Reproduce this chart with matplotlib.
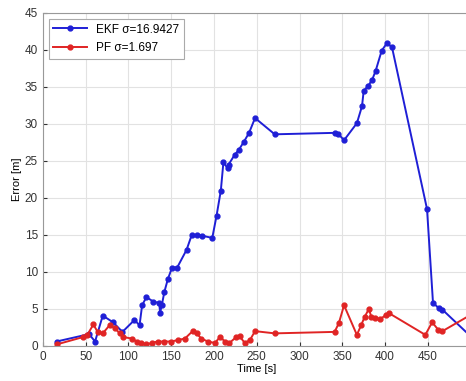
import matplotlib
matplotlib.use('Agg')
import matplotlib.pyplot as plt

# EKF error
ekf_t = [16, 54, 61, 70, 82, 93, 107, 113, 116, 121, 129, 136, 137, 139, 142, 146,
         151, 157, 168, 174, 180, 186, 198, 203, 208, 211, 216, 217, 224, 229, 235,
         241, 248, 271, 342, 345, 352, 367, 373, 375, 380, 385, 389, 396, 402, 408,
         449, 456, 463, 467, 500]
ekf_e = [0.6, 1.6, 0.6, 4.1, 3.2, 1.9, 3.5, 2.8, 5.5, 6.6, 6.0, 5.8, 4.5, 5.5, 7.3, 9.0,
         10.6, 10.6, 13.0, 15.0, 15.0, 14.9, 14.6, 17.6, 21.0, 24.8, 24.0, 24.5, 25.8, 26.5, 27.6,
         28.8, 30.8, 28.6, 28.8, 28.7, 27.8, 30.1, 32.4, 34.5, 35.1, 36.0, 37.2, 39.9, 40.9, 40.4,
         18.5, 5.8, 5.1, 4.9, 1.3]

# PF error
pf_t = [16, 47, 52, 59, 64, 70, 78, 84, 90, 94, 104, 110, 115, 121, 127, 134, 142, 150,
        158, 166, 175, 180, 185, 193, 201, 207, 213, 218, 226, 230, 236, 242, 248, 271,
        341, 346, 352, 367, 372, 376, 381, 384, 388, 394, 401, 405, 447, 455, 462, 467, 500]
pf_e = [0.2, 1.2, 1.5, 2.9, 1.9, 1.7, 2.8, 2.4, 1.7, 1.2, 1.0, 0.6, 0.4, 0.2, 0.4, 0.6, 0.6, 0.6,
        0.8, 1.0, 2.0, 1.7, 1.0, 0.6, 0.4, 1.2, 0.6, 0.4, 1.2, 1.3, 0.4, 0.8, 2.0, 1.7,
        1.9, 3.1, 5.5, 1.5, 2.8, 3.9, 5.0, 3.9, 3.8, 3.6, 4.2, 4.4, 1.5, 3.2, 2.2, 2.0, 4.2]

plt.rcParams['font.family'] = ['Liberation Sans', 'DejaVu Sans']

fig = plt.figure(figsize=(4.66, 3.81), dpi=100)
ax = fig.add_axes([0.092, 0.092, 0.918, 0.874])

ax.plot(ekf_t, ekf_e, '-o', color='#1f1fd6', lw=1.4, ms=3.5, label='EKF σ=16.9427')
ax.plot(pf_t, pf_e, '-o', color='#e02424', lw=1.4, ms=3.5, label='PF σ=1.697')

ax.set_xlim(0, 500)
ax.set_ylim(0, 45)
ax.set_xticks(range(0, 451, 50))
ax.set_yticks(range(0, 46, 5))
ax.grid(True, color='#e2e2e2', lw=0.8)
ax.set_axisbelow(True)
ax.tick_params(direction='in', labelsize=8.5, length=3, colors='#333333')
for s in ax.spines.values():
    s.set_color('#999999')
ax.spines['right'].set_visible(False)

ax.set_xlabel('Time [s]', fontsize=8, labelpad=1)
ax.set_ylabel('Error [m]', fontsize=8, labelpad=2)

leg = ax.legend(loc='upper left', fontsize=8.5, fancybox=False, edgecolor='#aaaaaa',
                handlelength=2.8, borderpad=0.4, labelspacing=0.55,
                bbox_to_anchor=(0.0, 1.0), framealpha=1)
leg.get_frame().set_linewidth(0.8)

fig.savefig('out.png', dpi=100)
